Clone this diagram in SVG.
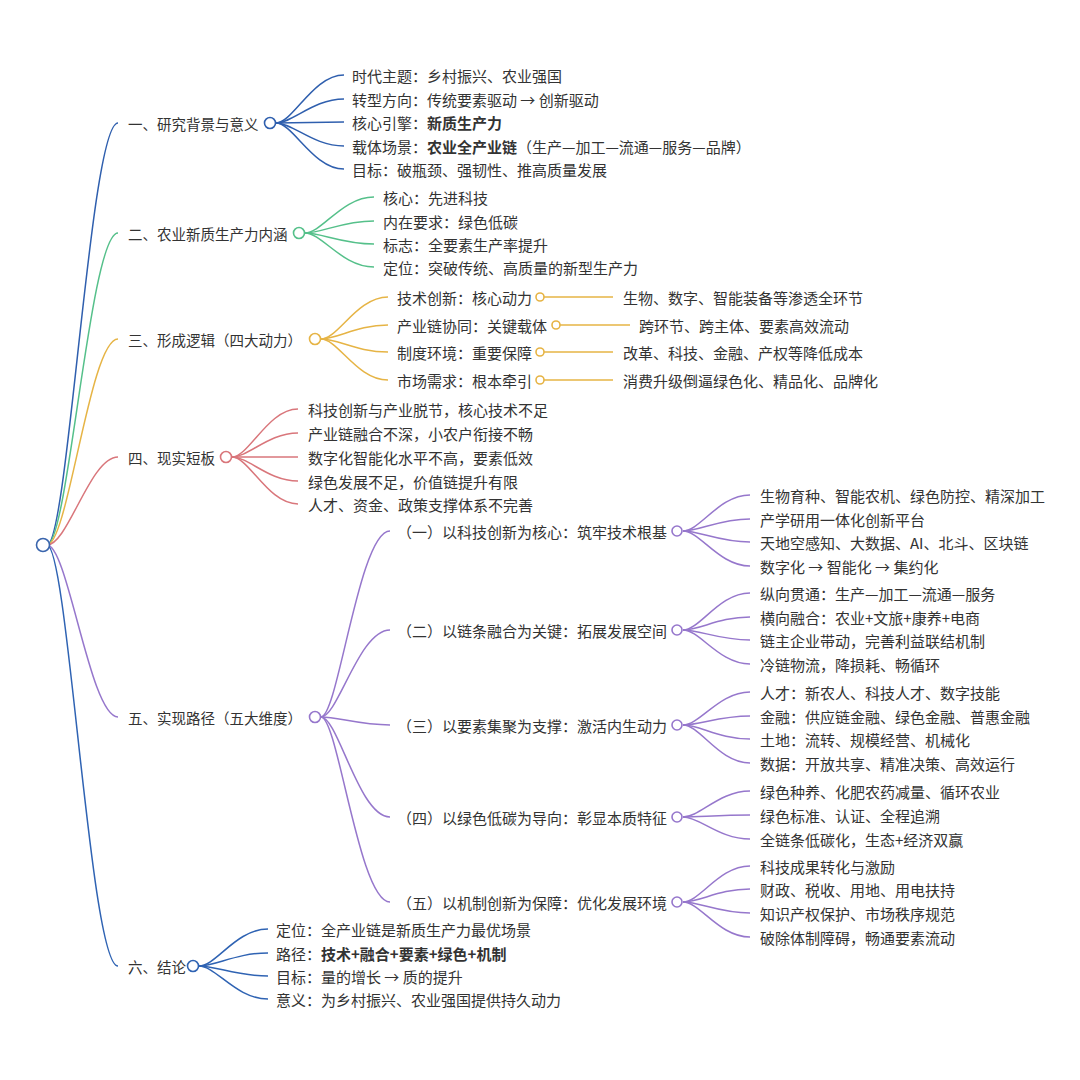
<svg xmlns="http://www.w3.org/2000/svg" width="1080" height="1080" viewBox="0 0 1080 1080">
<style>
.t{font-family:"Noto Sans CJK SC","Noto Sans",sans-serif;font-size:15px;fill:#333;dominant-baseline:central}
.l1{font-size:14.5px}
.b{font-weight:bold}
.c{fill:#fff;stroke-width:1.6}
.ln{fill:none;stroke-width:1.5}
.blue{stroke:#2f5fae}
.green{stroke:#55c08a}
.gold{stroke:#e6b445}
.red{stroke:#d9767b}
.purple{stroke:#9677cc}
.blue6{stroke:#2f63b3}
</style>
<rect width="1080" height="1080" fill="#fff"/>
<g id="connectors">
  <!-- root -->
  <path class="ln blue" d="M47,545 C68,545 90,123 118,123"/>
  <path class="ln green" d="M47,545 C68,545 90,233 118,233"/>
  <path class="ln gold" d="M47,545 C68,545 90,339 118,339"/>
  <path class="ln red" d="M47,545 C68,545 90,457 118,457"/>
  <path class="ln purple" d="M47,545 C68,545 90,717 118,717"/>
  <path class="ln blue6" d="M47,545 C68,545 90,966 118,966"/>
  <!-- 一 -->
  <path class="ln blue" d="M276,123 C293,123 313,75 344,75"/>
  <path class="ln blue" d="M276,123 C293,123 313,99 344,99"/>
  <path class="ln blue" d="M276,123 L344,122"/>
  <path class="ln blue" d="M276,123 C293,123 313,146 344,146"/>
  <path class="ln blue" d="M276,123 C293,123 313,169 344,169"/>
  <!-- 二 -->
  <path class="ln green" d="M305,233 C322,233 342,197 374,197"/>
  <path class="ln green" d="M305,233 C322,233 342,221 374,221"/>
  <path class="ln green" d="M305,233 C322,233 342,244 374,244"/>
  <path class="ln green" d="M305,233 C322,233 342,267 374,267"/>
  <!-- 三 -->
  <path class="ln gold" d="M321,339 C338,339 357,297 388,297"/>
  <path class="ln gold" d="M321,339 C338,339 357,325 388,325"/>
  <path class="ln gold" d="M321,339 C338,339 357,352 388,352"/>
  <path class="ln gold" d="M321,339 C338,339 357,380 388,380"/>
  <path class="ln gold" d="M544,297 H613"/>
  <path class="ln gold" d="M560,325 H630"/>
  <path class="ln gold" d="M544,352 H613"/>
  <path class="ln gold" d="M544,380 H613"/>
  <!-- 四 -->
  <path class="ln red" d="M232,457 C249,457 268,409 298,409"/>
  <path class="ln red" d="M232,457 C249,457 268,433 298,433"/>
  <path class="ln red" d="M232,457 L298,457"/>
  <path class="ln red" d="M232,457 C249,457 268,481 298,481"/>
  <path class="ln red" d="M232,457 C249,457 268,504 298,504"/>
  <!-- 五 -->
  <path class="ln purple" d="M321,717 C338,717 359,531 390,531"/>
  <path class="ln purple" d="M321,717 C338,717 359,630 390,630"/>
  <path class="ln purple" d="M321,717 C338,717 359,725 390,725"/>
  <path class="ln purple" d="M321,717 C338,717 359,817 390,817"/>
  <path class="ln purple" d="M321,717 C338,717 359,902 390,902"/>
  <!-- 五.一 -->
  <path class="ln purple" d="M683,531 C700,531 719,495 750,495"/>
  <path class="ln purple" d="M683,531 C700,531 719,519 750,519"/>
  <path class="ln purple" d="M683,531 C700,531 719,542 750,542"/>
  <path class="ln purple" d="M683,531 C700,531 719,566 750,566"/>
  <!-- 五.二 -->
  <path class="ln purple" d="M683,630 C700,630 719,593 750,593"/>
  <path class="ln purple" d="M683,630 C700,630 719,617 750,617"/>
  <path class="ln purple" d="M683,630 C700,630 719,640 750,640"/>
  <path class="ln purple" d="M683,630 C700,630 719,664 750,664"/>
  <!-- 五.三 -->
  <path class="ln purple" d="M683,725 C700,725 719,692 750,692"/>
  <path class="ln purple" d="M683,725 C700,725 719,716 750,716"/>
  <path class="ln purple" d="M683,725 C700,725 719,739 750,739"/>
  <path class="ln purple" d="M683,725 C700,725 719,763 750,763"/>
  <!-- 五.四 -->
  <path class="ln purple" d="M683,817 C700,817 719,791 750,791"/>
  <path class="ln purple" d="M683,817 C700,817 719,815 750,815"/>
  <path class="ln purple" d="M683,817 C700,817 719,839 750,839"/>
  <!-- 五.五 -->
  <path class="ln purple" d="M683,902 C700,902 719,866 750,866"/>
  <path class="ln purple" d="M683,902 C700,902 719,889 750,889"/>
  <path class="ln purple" d="M683,902 C700,902 719,913 750,913"/>
  <path class="ln purple" d="M683,902 C700,902 719,937 750,937"/>
  <!-- 六 -->
  <path class="ln blue6" d="M199,966 C216,966 236,929 268,929"/>
  <path class="ln blue6" d="M199,966 C216,966 236,953 268,953"/>
  <path class="ln blue6" d="M199,966 C216,966 236,976 268,976"/>
  <path class="ln blue6" d="M199,966 C216,966 236,999 268,999"/>
</g>

<g id="root"><circle class="c" cx="43" cy="545" r="6.5" stroke="#3a65ad"/></g>

<g id="n1"><text class="t l1" x="128" y="123">一、研究背景与意义</text><circle class="c" cx="270" cy="123" r="5.5" stroke="#2f5fae"/></g>
<g id="n1-1"><text class="t" x="352" y="75">时代主题：乡村振兴、农业强国</text></g>
<g id="n1-2"><text class="t" x="352" y="99">转型方向：传统要素驱动 → 创新驱动</text></g>
<g id="n1-3"><text class="t" x="352" y="122">核心引擎：<tspan class="b">新质生产力</tspan></text></g>
<g id="n1-4"><text class="t" x="352" y="146">载体场景：<tspan class="b">农业全产业链</tspan>（生产—加工—流通—服务—品牌）</text></g>
<g id="n1-5"><text class="t" x="352" y="169">目标：破瓶颈、强韧性、推高质量发展</text></g>

<g id="n2"><text class="t l1" x="128" y="233">二、农业新质生产力内涵</text><circle class="c" cx="299" cy="233" r="5.5" stroke="#55c08a"/></g>
<g id="n2-1"><text class="t" x="383" y="197">核心：先进科技</text></g>
<g id="n2-2"><text class="t" x="383" y="221">内在要求：绿色低碳</text></g>
<g id="n2-3"><text class="t" x="383" y="244">标志：全要素生产率提升</text></g>
<g id="n2-4"><text class="t" x="383" y="267">定位：突破传统、高质量的新型生产力</text></g>

<g id="n3"><text class="t l1" x="128" y="339">三、形成逻辑（四大动力）</text><circle class="c" cx="315" cy="339" r="5.5" stroke="#e6b445"/></g>
<g id="n3-1"><text class="t" x="397" y="297">技术创新：核心动力</text><circle class="c" cx="540" cy="297" r="4" stroke="#e6b445"/></g>
<g id="n3-1a"><text class="t" x="623" y="297">生物、数字、智能装备等渗透全环节</text></g>
<g id="n3-2"><text class="t" x="397" y="325">产业链协同：关键载体</text><circle class="c" cx="556" cy="325" r="4" stroke="#e6b445"/></g>
<g id="n3-2a"><text class="t" x="639" y="325">跨环节、跨主体、要素高效流动</text></g>
<g id="n3-3"><text class="t" x="397" y="352">制度环境：重要保障</text><circle class="c" cx="540" cy="352" r="4" stroke="#e6b445"/></g>
<g id="n3-3a"><text class="t" x="623" y="352">改革、科技、金融、产权等降低成本</text></g>
<g id="n3-4"><text class="t" x="397" y="380">市场需求：根本牵引</text><circle class="c" cx="540" cy="380" r="4" stroke="#e6b445"/></g>
<g id="n3-4a"><text class="t" x="623" y="380">消费升级倒逼绿色化、精品化、品牌化</text></g>

<g id="n4"><text class="t l1" x="128" y="457">四、现实短板</text><circle class="c" cx="226" cy="457" r="5.5" stroke="#d9767b"/></g>
<g id="n4-1"><text class="t" x="308" y="409">科技创新与产业脱节，核心技术不足</text></g>
<g id="n4-2"><text class="t" x="308" y="433">产业链融合不深，小农户衔接不畅</text></g>
<g id="n4-3"><text class="t" x="308" y="457">数字化智能化水平不高，要素低效</text></g>
<g id="n4-4"><text class="t" x="308" y="481">绿色发展不足，价值链提升有限</text></g>
<g id="n4-5"><text class="t" x="308" y="504">人才、资金、政策支撑体系不完善</text></g>

<g id="n5"><text class="t l1" x="128" y="717">五、实现路径（五大维度）</text><circle class="c" cx="315" cy="717" r="5.5" stroke="#9677cc"/></g>
<g id="n5-1"><text class="t" x="397" y="531">（一）以科技创新为核心：筑牢技术根基</text><circle class="c" cx="677" cy="531" r="5" stroke="#9677cc"/></g>
<g id="n5-1-1"><text class="t" x="760" y="495">生物育种、智能农机、绿色防控、精深加工</text></g>
<g id="n5-1-2"><text class="t" x="760" y="519">产学研用一体化创新平台</text></g>
<g id="n5-1-3"><text class="t" x="760" y="542">天地空感知、大数据、AI、北斗、区块链</text></g>
<g id="n5-1-4"><text class="t" x="760" y="566">数字化 → 智能化 → 集约化</text></g>
<g id="n5-2"><text class="t" x="397" y="630">（二）以链条融合为关键：拓展发展空间</text><circle class="c" cx="677" cy="630" r="5" stroke="#9677cc"/></g>
<g id="n5-2-1"><text class="t" x="760" y="593">纵向贯通：生产—加工—流通—服务</text></g>
<g id="n5-2-2"><text class="t" x="760" y="617">横向融合：农业+文旅+康养+电商</text></g>
<g id="n5-2-3"><text class="t" x="760" y="640">链主企业带动，完善利益联结机制</text></g>
<g id="n5-2-4"><text class="t" x="760" y="664">冷链物流，降损耗、畅循环</text></g>
<g id="n5-3"><text class="t" x="397" y="725">（三）以要素集聚为支撑：激活内生动力</text><circle class="c" cx="677" cy="725" r="5" stroke="#9677cc"/></g>
<g id="n5-3-1"><text class="t" x="760" y="692">人才：新农人、科技人才、数字技能</text></g>
<g id="n5-3-2"><text class="t" x="760" y="716">金融：供应链金融、绿色金融、普惠金融</text></g>
<g id="n5-3-3"><text class="t" x="760" y="739">土地：流转、规模经营、机械化</text></g>
<g id="n5-3-4"><text class="t" x="760" y="763">数据：开放共享、精准决策、高效运行</text></g>
<g id="n5-4"><text class="t" x="397" y="817">（四）以绿色低碳为导向：彰显本质特征</text><circle class="c" cx="677" cy="817" r="5" stroke="#9677cc"/></g>
<g id="n5-4-1"><text class="t" x="760" y="791">绿色种养、化肥农药减量、循环农业</text></g>
<g id="n5-4-2"><text class="t" x="760" y="815">绿色标准、认证、全程追溯</text></g>
<g id="n5-4-3"><text class="t" x="760" y="839">全链条低碳化，生态+经济双赢</text></g>
<g id="n5-5"><text class="t" x="397" y="902">（五）以机制创新为保障：优化发展环境</text><circle class="c" cx="677" cy="902" r="5" stroke="#9677cc"/></g>
<g id="n5-5-1"><text class="t" x="760" y="866">科技成果转化与激励</text></g>
<g id="n5-5-2"><text class="t" x="760" y="889">财政、税收、用地、用电扶持</text></g>
<g id="n5-5-3"><text class="t" x="760" y="913">知识产权保护、市场秩序规范</text></g>
<g id="n5-5-4"><text class="t" x="760" y="937">破除体制障碍，畅通要素流动</text></g>

<g id="n6"><text class="t l1" x="128" y="966">六、结论</text><circle class="c" cx="193" cy="966" r="5.5" stroke="#2f63b3"/></g>
<g id="n6-1"><text class="t" x="276" y="929">定位：全产业链是新质生产力最优场景</text></g>
<g id="n6-2"><text class="t" x="276" y="953">路径：<tspan class="b">技术+融合+要素+绿色+机制</tspan></text></g>
<g id="n6-3"><text class="t" x="276" y="976">目标：量的增长 → 质的提升</text></g>
<g id="n6-4"><text class="t" x="276" y="999">意义：为乡村振兴、农业强国提供持久动力</text></g>
</svg>
